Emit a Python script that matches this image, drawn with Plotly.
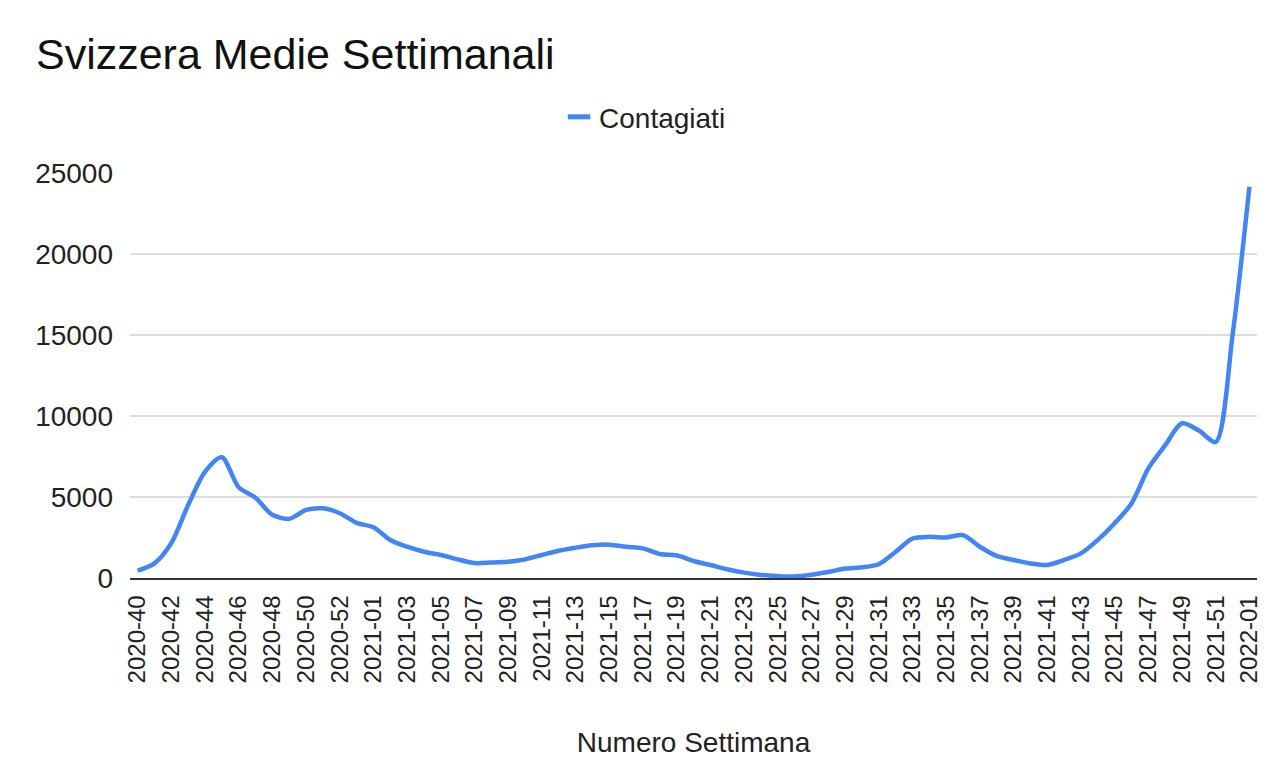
import plotly.graph_objects as go

weeks_2020 = [f"2020-{w:02d}" for w in range(40, 54)]
weeks_2021 = [f"2021-{w:02d}" for w in range(1, 53)]
weeks_2022 = ["2022-01"]
categories = weeks_2020 + weeks_2021 + weeks_2022

contagiati = [
    450, 900, 2150, 4500, 6550, 7450, 5600, 4950, 3900, 3650, 4200, 4300, 4000, 3400,
    3130, 2350, 1930, 1620, 1420, 1150, 920, 950, 1000, 1150, 1420, 1680, 1870, 2020,
    2060, 1930, 1830, 1480, 1400, 1050, 800, 540, 330, 190, 120, 90, 200, 370, 580,
    660, 850, 1620, 2440, 2540, 2500, 2650, 1930, 1360, 1110, 900, 800, 1110, 1520,
    2350, 3380, 4600, 6770, 8200, 9550, 9100, 8400, 15000,
    24150,
]

tick_labels = categories[::2]
y_ticks = [0, 5000, 10000, 15000, 20000, 25000]

FONT = "Liberation Sans, Arial, sans-serif"
BLUE = "#4285F4"

fig = go.Figure()
fig.add_trace(go.Scatter(
    x=categories, y=contagiati, mode="lines", name="Contagiati", showlegend=False,
    line=dict(color=BLUE, width=4.5, shape="spline", smoothing=0.8),
))
# legend entry (short dash like the reference legend key)
fig.add_trace(go.Scatter(
    x=[None], y=[None], mode="markers", name="Contagiati", showlegend=True,
    marker=dict(symbol="line-ew-open", size=17, color=BLUE, line=dict(color=BLUE, width=5)),
))

fig.update_layout(
    width=1272, height=773,
    paper_bgcolor="white", plot_bgcolor="white",
    margin=dict(l=122, r=23, t=165, b=203),
    font=dict(family=FONT, color="#222222", size=27),
    title=dict(text="Svizzera Medie Settimanali", x=0.022, xanchor="left",
               y=0.9405, yanchor="middle", font=dict(size=43, color="#111111")),
    showlegend=True,
    legend=dict(orientation="h", x=0.457, xanchor="center", y=1.138, yanchor="middle",
                font=dict(size=28, color="#222222"), bgcolor="rgba(0,0,0,0)"),
    xaxis=dict(
        type="category", categoryorder="array", categoryarray=categories,
        range=[-0.45, len(categories) - 0.55],
        tickmode="array", tickvals=tick_labels, ticktext=tick_labels,
        tickangle=-90, tickfont=dict(size=24, color="#222222"), ticklabelstandoff=6,
        showgrid=False, showline=True, linecolor="#333333", linewidth=1.5,
        ticks="", zeroline=False,
        title=dict(text="Numero Settimana", font=dict(size=28, color="#222222"), standoff=50),
    ),
    yaxis=dict(
        range=[0, 25000], tickvals=y_ticks, ticktext=[str(v) for v in y_ticks],
        showgrid=True, gridcolor="#dddddd", gridwidth=1.5,
        zeroline=False, showline=False, ticks="",
        tickfont=dict(size=28, color="#222222"), ticklabelstandoff=16,
    ),
)

fig.write_html("out.html")
